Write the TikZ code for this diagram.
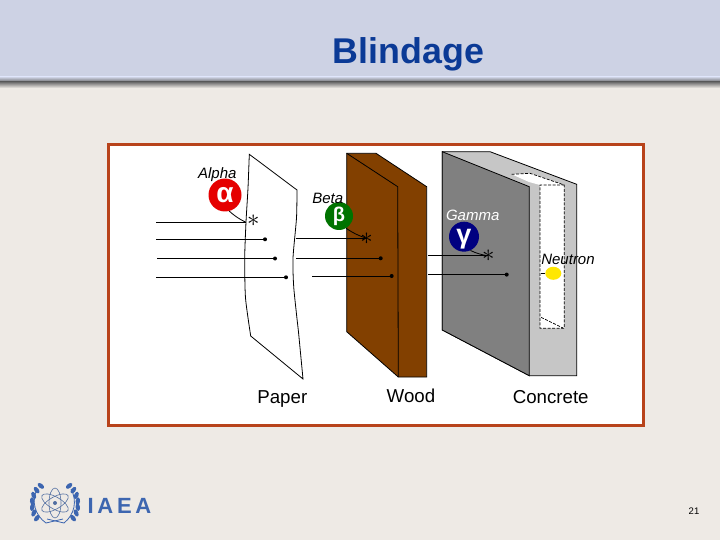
\documentclass[tikz,border=0pt]{standalone}
\usepackage{fontspec}
\setmainfont{Liberation Sans}
\newfontfamily\logofont[LetterSpace=17]{Liberation Sans}
\usepackage{xcolor}
\usepackage{tikz}
\usetikzlibrary{positioning,shapes.geometric}

\definecolor{headblue}{HTML}{CDD2E4}
\definecolor{pagecream}{HTML}{EEEAE5}
\definecolor{framered}{HTML}{B8431B}
\definecolor{titleblue}{HTML}{0B3A96}
\definecolor{woodbrown}{HTML}{824000}
\definecolor{logoblue}{HTML}{3D66B0}

\begin{document}
\begin{tikzpicture}[x=1pt,y=-1pt,
                          ray/.style={line width=.8pt, black},
                          hit/.style={line width=.8pt, black},
                          edgeline/.style={line width=.8pt, black},
                          slotline/.style={line width=.7pt, black, dash pattern=on 3pt off 1.5pt},
                          dot/.style={circle, fill=black, inner sep=0pt, minimum size=4pt},
                          burst/.style={inner sep=0pt, font=\fontsize{26}{26}\selectfont},
                          particle/.style={circle, inner sep=0pt, text=white, font=\fontsize{28}{28}\selectfont\bfseries},
                          tag/.style={inner sep=0pt, font=\fontsize{15}{15}\selectfont\itshape},
                          shield/.style={inner sep=0pt, anchor=base, font=\fontsize{18.7}{19}\selectfont},
                         ]

\useasboundingbox (0,0) rectangle (720,540);

% page
\fill[pagecream] (0,0) rectangle (720,540);
\fill[headblue] (0,0) rectangle (720,78);
\shade[top color=headblue, bottom color=gray!85!black] (0,77) rectangle (720,82);
\shade[top color=gray!85!black, bottom color=pagecream] (0,82) rectangle (720,88);

\node[inner sep=0pt, text=titleblue, font=\fontsize{35.8}{36}\selectfont\bfseries] (title) at (408.5,54) {Blindage};

\draw[framered, line width=3pt, fill=white] (108.5,144.5) rectangle (643,425.5);

% paper
\draw[edgeline, fill=white] plot[smooth, tension=.4] coordinates {(249.3,154.3) (248,188) (246,222) (244.7,258) (245.5,298) (250.7,336)}
   -- (303,379) -- plot[smooth, tension=.4] coordinates {(298.5,332) (293.8,288) (293,258) (296.5,218) (297,190)} -- cycle;

% wood
\draw[edgeline, fill=woodbrown] (346.7,153.3) -- (376,153.3) -- (426.7,186.7) -- (426.7,377) -- (398.3,377) -- (346.7,331.7) -- cycle;
\draw[edgeline] (346.7,153.3) -- (397.7,186.7) -- (398.3,377);

% concrete
\draw[edgeline, fill=gray!45] (442.3,151.7) -- (490,151.7) -- (576.7,184.3) -- (576.7,375.7) -- (529.3,375.7) -- (442.3,330) -- cycle;
\fill[white] (511.7,174.3) -- (530,173.3) -- (564.3,185) -- (564.3,328.3) -- (540,328.3) -- (540,185) -- (529,182) -- cycle;
\draw[slotline] (511.7,174.3) -- (530,173.3) -- (564.3,185) -- (564.3,328.3) -- (540,328.3) -- (540,185) -- (564.3,185);
\draw[slotline] (541,317.3) -- (563,328);
\draw[edgeline, fill=gray] (442.3,151.7) -- (529.3,186.7) -- (529.3,375.7) -- (442.3,330) -- cycle;

% particles
\node[particle, fill=red!90!black, minimum size=33pt] (alpha) at (225,195) {α};
\node[particle, fill=green!45!black, minimum size=28pt, font=\fontsize{20}{20}\selectfont\bfseries] (beta) at (339,216) {β};
\node[particle, fill=blue!50!black, minimum size=30pt, font=\fontsize{27}{27}\selectfont\bfseries, text height=15pt, text depth=2pt] (gamma) at (464,236.7) {γ};
\node[ellipse, fill=yellow!90!orange, inner sep=0pt, minimum width=16pt, minimum height=13pt] (neutron) at (553.3,273.3) {};

\node[tag] (alphatag) at (217.3,174.3) {Alpha};
\node[tag] (betatag) at (327.7,198.3) {Beta};
\node[tag, text=white] (gammatag) at (472.7,215) {Gamma};
\node[tag] (neutrontag) at (568,259) {Neutron};

% stopping points
\node[burst] (alphastop) at (253.3,221) {$\ast$};
\node[burst] (betastop) at (366.7,238.3) {$\ast$};
\node[burst] (gammastop) at (488.3,255.8) {$\ast$};
\node[dot] (dotA) at (265,239.3) {};
\node[dot] (dotB) at (275,258.5) {};
\node[dot] (dotC) at (286,277.3) {};
\node[dot] (dotD) at (380.7,258.3) {};
\node[dot] (dotE) at (391.7,276) {};
\node[dot] (dotF) at (506.7,274.6) {};

\coordinate (startA) at (156,222.3);
\coordinate (startB) at (156,239.3);
\coordinate (startC) at (157,258.5);
\coordinate (startD) at (156,277.3);
\coordinate (paperend) at (246,222.3);
\coordinate (startE) at (296,238.3);
\coordinate (startF) at (296,258.3);
\coordinate (startG) at (312,276);
\coordinate (startH) at (428,255.8);
\coordinate (startI) at (428,274.6);
\coordinate (startJ) at (541,273.3);

\draw[ray] (startA) -- (paperend);
\draw[ray] (startB) -- (dotA);
\draw[ray] (startC) -- (dotB);
\draw[ray] (startD) -- (dotC);
\draw[ray] (startE) -- (betastop.center);
\draw[ray] (startF) -- (dotD);
\draw[ray] (startG) -- (dotE);
\draw[ray] (startH) -- (gammastop.center);
\draw[ray] (startI) -- (dotF);
\draw[ray] (startJ) -- (neutron);

\draw[hit] (alpha.285) to[bend right=8] (paperend);
\draw[hit] (beta.300) to[bend right=8] (betastop.center);
\draw[hit] (gamma.295) to[bend right=8] (gammastop.center);

% labels
\node[shield] (paperlabel) at (282.3,403) {Paper};
\node[shield] (woodlabel) at (411,402.3) {Wood};
\node[shield] (concretelabel) at (550.7,403) {Concrete};

% logo
\draw[logoblue, line width=.8pt] (46,523) to[bend left=40] (37,489);
\draw[logoblue, line width=.8pt] (64,523) to[bend right=40] (71,489);
\draw[logoblue, line width=.8pt] (46,523) -- (63,519);
\draw[logoblue, line width=.8pt] (64,523) -- (47,519);
\foreach \ang in {142,157,...,240} {
  \fill[logoblue] (55,504) ++(\ang:23) ellipse[x radius=2.2, y radius=3.8, rotate=\ang];
  \fill[logoblue] (55,504) ++(180-\ang:23) ellipse[x radius=2.2, y radius=3.8, rotate=-\ang];
}
\draw[logoblue!70!gray, line width=.6pt] (55,503) ellipse[x radius=15, y radius=6, rotate=30];
\draw[logoblue!70!gray, line width=.6pt] (55,503) ellipse[x radius=15, y radius=6, rotate=-30];
\draw[logoblue!70!gray, line width=.6pt] (55,503) ellipse[x radius=15, y radius=6, rotate=90];
\fill[logoblue!70!gray] (55,503) circle (2);
\node[inner sep=0pt, text=logoblue, font=\fontsize{22}{22}\logofont\bfseries\selectfont] (iaea) at (119.5,506) {IAEA};

\node[inner sep=0pt, font=\fontsize{9.5}{10}\selectfont] (pagenum) at (694,511) {21};

\end{tikzpicture}
\end{document}
